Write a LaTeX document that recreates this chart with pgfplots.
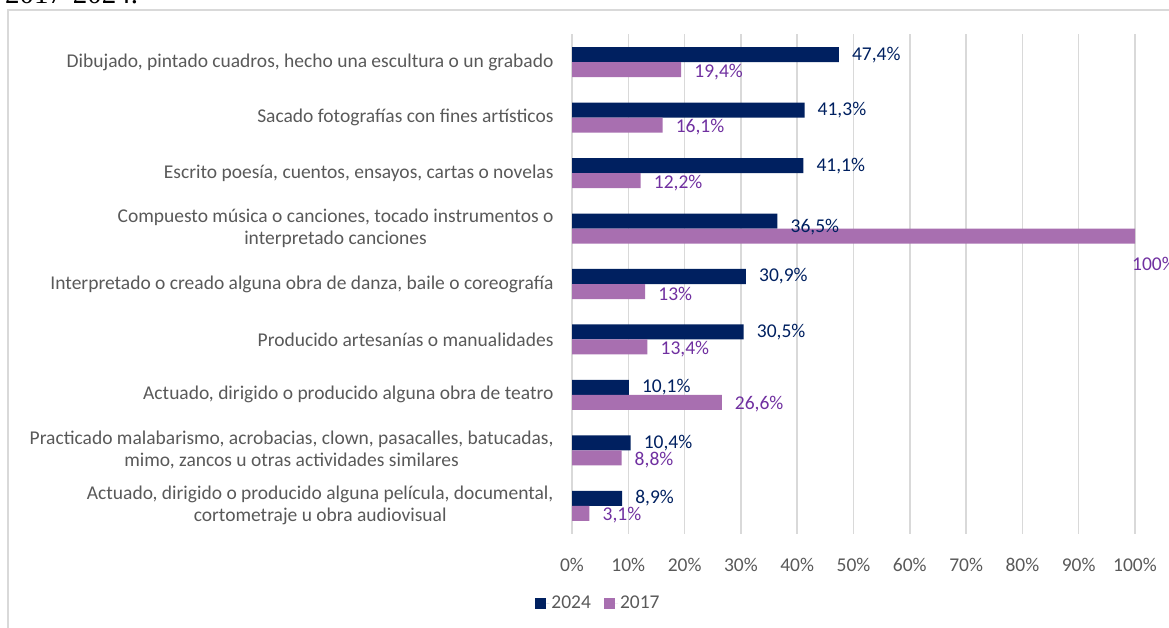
\documentclass[border=0pt]{standalone}
\usepackage{pgfplots}
\pgfplotsset{compat=1.18}
\usepackage{fontspec}
\setmainfont{Carlito}
\newfontfamily\seriffont{Liberation Serif}
\definecolor{c24}{HTML}{002060}
\definecolor{c17}{HTML}{A86FB0}
\definecolor{l17}{HTML}{7030A0}
\definecolor{gridc}{HTML}{D9D9D9}
\definecolor{tickc}{HTML}{595959}
\newcommand{\lf}{\fontsize{19.5}{22}\selectfont}
\begin{document}
\begin{tikzpicture}
\useasboundingbox (0pt,0pt) rectangle (1169pt,627pt);
\draw[gridc, line width=1.5pt] (8pt,-20pt) -- (8pt,617pt) -- (1200pt,617pt);
\node[anchor=base west, font=\seriffont\fontsize{29}{30}\selectfont, inner sep=0pt] at (5pt,623pt) {2017-2024.};
\begin{axis}[
  at={(572pt,93.5pt)}, anchor=south west,
  scale only axis, width=563pt, height=499pt,
  xbar, bar width=15pt,
  xmin=0, xmax=100, ymin=-0.5, ymax=8.5,
  clip=false,
  axis line style={draw=none},
  major tick length=0pt,
  xmajorgrids, grid style={gridc, line width=1.5pt},
  xtick={0,10,...,100},
  xticklabels={0\%,10\%,20\%,30\%,40\%,50\%,60\%,70\%,80\%,90\%,100\%},
  xticklabel style={font=\lf, text=tickc, yshift=-21pt},
  ytick={0,...,8},
  yticklabels={
    {Actuado, dirigido o producido alguna película, documental,\\cortometraje u obra audiovisual},
    {Practicado malabarismo, acrobacias, clown, pasacalles, batucadas,\\mimo, zancos u otras actividades similares},
    {Actuado, dirigido o producido alguna obra de teatro},
    {Producido artesanías o manualidades},
    {Interpretado o creado alguna obra de danza, baile o coreografía},
    {Compuesto música o canciones, tocado instrumentos o\\interpretado canciones},
    {Escrito poesía, cuentos, ensayos, cartas o novelas},
    {Sacado fotografías con fines artísticos},
    {Dibujado, pintado cuadros, hecho una escultura o un grabado}},
  yticklabel style={font=\lf, text=tickc, align=center, xshift=-15pt},
  legend columns=2,
  legend style={at={(rel axis cs:0,0)}, anchor=center, xshift=26.5pt, yshift=-69.5pt,
    draw=none, fill=none, font=\lf, text=tickc, inner sep=0pt,
    nodes={inner sep=2pt},
    /tikz/every even column/.append style={column sep=11pt}},
]
\addplot[fill=c24, draw=none, bar shift=7.5pt,
  legend image code/.code={\fill[c24] (0pt,-5.5pt) rectangle (11pt,5.5pt); \path (11pt,0pt) -- (14pt,0pt);},
  nodes near coords, point meta=explicit symbolic,
  every node near coord/.append style={anchor=west, text=c24, font=\lf, inner sep=2pt, xshift=11pt},
  coordinate style/.condition={x>36 && x<37}{yshift=-6pt}]
  table[x=x, y=y, meta=lab] {
y x lab
8 47.4 47,4\%
7 41.3 41,3\%
6 41.1 41,1\%
5 36.5 36,5\%
4 30.9 30,9\%
3 30.5 30,5\%
2 10.1 10,1\%
1 10.4 10,4\%
0 8.9 8,9\%
};
\addlegendentry{2024}
\addplot[fill=c17, draw=none, bar shift=-7.5pt,
  legend image code/.code={\fill[c17] (0pt,-5.5pt) rectangle (11pt,5.5pt); \path (11pt,0pt) -- (14pt,0pt);},
  nodes near coords, point meta=explicit symbolic,
  every node near coord/.append style={anchor=west, text=l17, font=\lf, inner sep=2pt, xshift=11pt, yshift=-2pt},
  coordinate style/.condition={x>99}{anchor=north west, xshift=-16pt, yshift=-26pt}]
  table[x=x, y=y, meta=lab] {
y x lab
8 19.4 19,4\%
7 16.1 16,1\%
6 12.2 12,2\%
5 100 100\%
4 13 13\%
3 13.4 13,4\%
2 26.6 26,6\%
1 8.8 8,8\%
0 3.1 3,1\%
};
\addlegendentry{2017}
\end{axis}
\end{tikzpicture}
\end{document}
